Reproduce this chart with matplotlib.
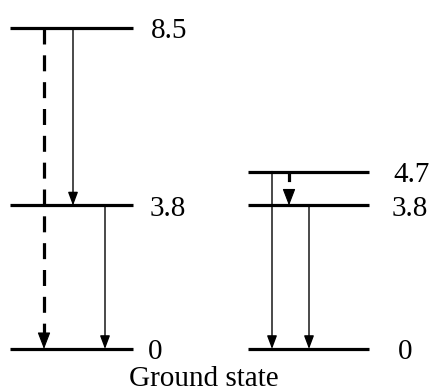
import matplotlib.pyplot as plt

# energy levels (eV) of the two level schemes
left_levels = [8.5, 3.8, 0.0]
left_labels = ["8.5", "3.8", "0"]
right_levels = [4.7, 3.8, 0.0]
right_labels = ["4.7", "3.8", "0"]

# transitions as (upper, lower, dashed)
left_transitions = [(8.5, 0.0, True), (8.5, 3.8, False), (3.8, 0.0, False)]
right_transitions = [(4.7, 0.0, False), (4.7, 3.8, True), (3.8, 0.0, False)]

ground_text = "Ground state"

# layout (x in pixel-like units across the 432 px canvas)
left_span = (10, 133)
left_arrow_x = [44, 73, 105]
left_label_x = [151, 150, 148]
right_span = (248, 369)
right_arrow_x = [272, 289, 309]
right_label_x = [393, 392, 398]

FONT = "Liberation Serif"
FS = 21

fig = plt.figure(figsize=(4.32, 3.92), dpi=100)
ax = fig.add_axes([0, 0, 1, 1])
ax.axis("off")

# vertical mapping: 0 eV sits 349 px from the top, 8.5 eV at 28 px
k = (349 - 28) / 8.5
ax.set_xlim(0, 432)
ax.set_ylim(-(392 - 349) / k, 8.5 + 28 / k)


def draw_levels(levels, labels, span, label_x):
    for e, lab, lx in zip(levels, labels, label_x):
        ax.plot(span, [e, e], color="black", lw=2.3, solid_capstyle="butt")
        ax.annotate(lab, xy=(lx, e), xytext=(0, -7.5), textcoords="offset points",
                    ha="left", va="baseline", family=FONT, fontsize=FS)


def draw_arrow(x, top, bottom, dashed):
    if dashed:
        head = 15 / k
        # short drops get a tighter dash so a gap shows above the head
        pattern = (5, 3.4) if top - bottom > 2 else (3, 2.6)
        ax.plot([x, x], [top, bottom + head], color="black", lw=2.3,
                dashes=pattern, dash_capstyle="butt")
        ax.annotate("", xy=(x, bottom), xytext=(x, bottom + head),
                    arrowprops=dict(arrowstyle="-|>,head_length=0.52,head_width=0.2",
                                    lw=0.8, color="black", shrinkA=0, shrinkB=0,
                                    mutation_scale=20))
    else:
        ax.annotate("", xy=(x, bottom), xytext=(x, top),
                    arrowprops=dict(arrowstyle="-|>,head_length=0.4,head_width=0.15",
                                    lw=1.0, color="black", shrinkA=0, shrinkB=0,
                                    mutation_scale=20))


draw_levels(left_levels, left_labels, left_span, left_label_x)
draw_levels(right_levels, right_labels, right_span, right_label_x)

for x, (hi, lo, dashed) in zip(left_arrow_x, left_transitions):
    draw_arrow(x, hi, lo, dashed)
for x, (hi, lo, dashed) in zip(right_arrow_x, right_transitions):
    draw_arrow(x, hi, lo, dashed)

ax.text(204, -(386 - 349) / k, ground_text, ha="center", va="baseline",
        family=FONT, fontsize=FS)

fig.savefig("out.png", dpi=100)
